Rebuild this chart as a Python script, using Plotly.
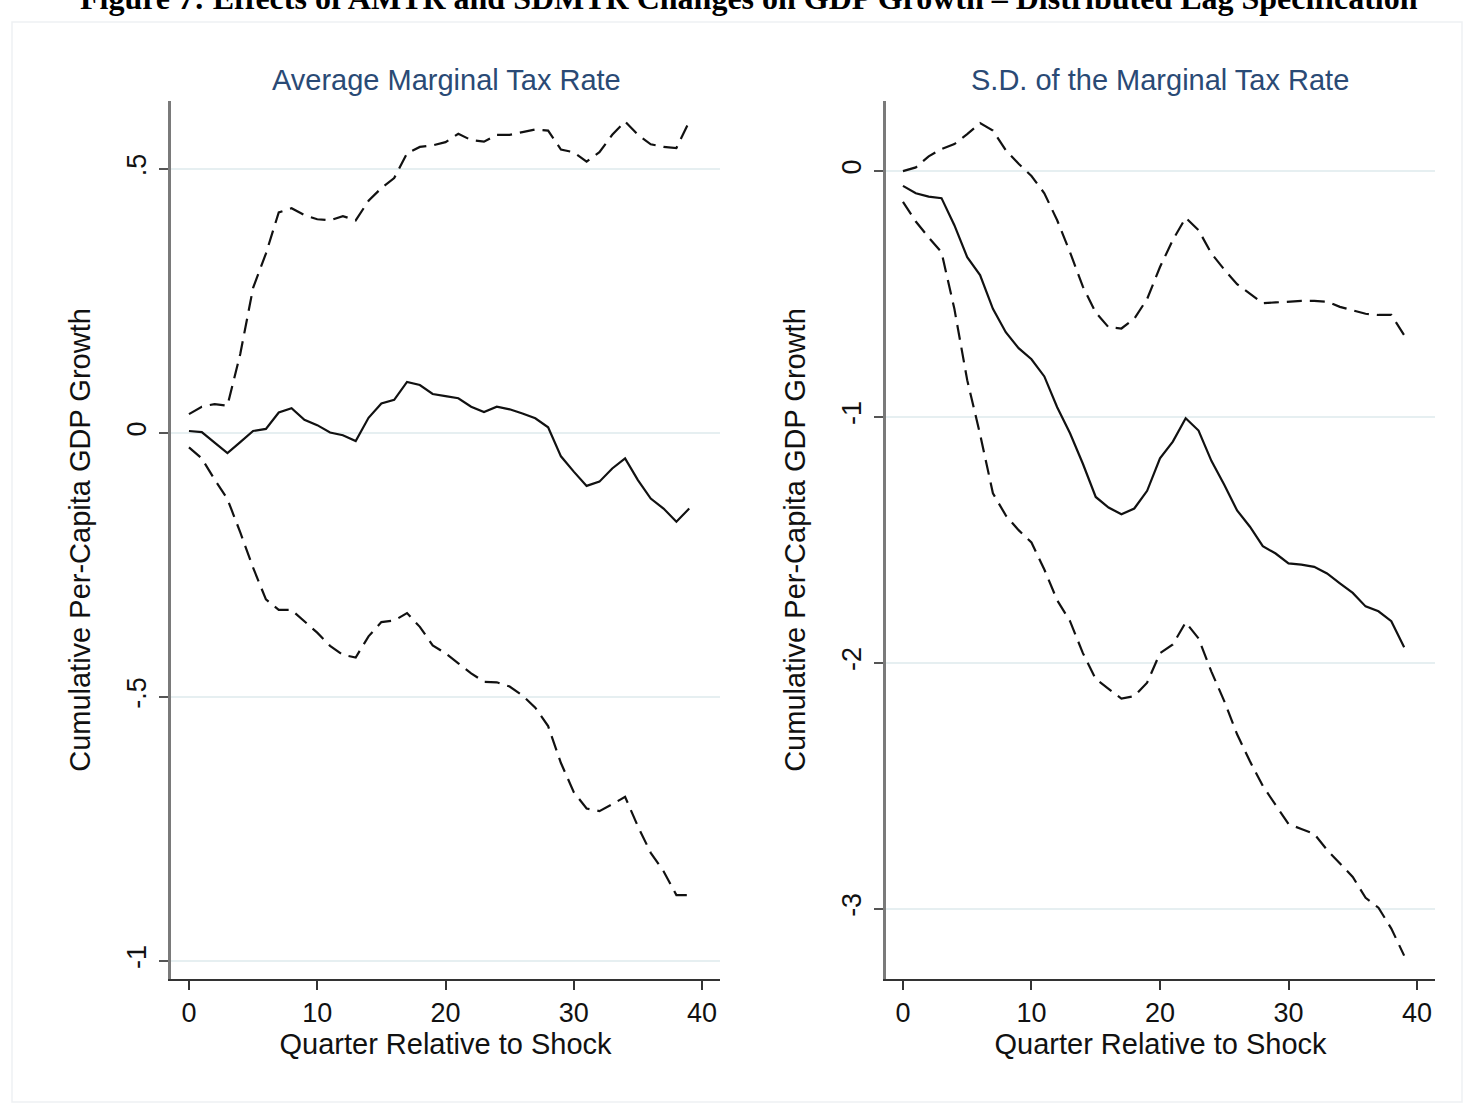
import plotly.graph_objects as go

# Quarters since the tax shock
quarters = list(range(40))

# Average marginal tax rate: point estimate and confidence band
amtr_est = [0.004, 0.002, -0.018, -0.038, -0.017, 0.004, 0.008, 0.039, 0.047, 0.025,
            0.015, 0.001, -0.004, -0.015, 0.029, 0.056, 0.063, 0.097, 0.091, 0.074,
            0.070, 0.066, 0.050, 0.040, 0.050, 0.045, 0.037, 0.028, 0.011, -0.044,
            -0.073, -0.100, -0.092, -0.067, -0.048, -0.089, -0.124, -0.143, -0.168, -0.143]
amtr_upper = [0.036, 0.050, 0.055, 0.052, 0.150, 0.275, 0.340, 0.418, 0.426, 0.413,
              0.405, 0.403, 0.411, 0.403, 0.440, 0.464, 0.483, 0.530, 0.542, 0.545,
              0.551, 0.567, 0.555, 0.552, 0.565, 0.565, 0.570, 0.575, 0.573, 0.537,
              0.532, 0.514, 0.532, 0.565, 0.590, 0.565, 0.547, 0.542, 0.540, 0.590]
amtr_lower = [-0.027, -0.048, -0.088, -0.125, -0.188, -0.255, -0.315, -0.335, -0.335, -0.357,
              -0.378, -0.403, -0.420, -0.425, -0.385, -0.358, -0.355, -0.341, -0.367, -0.402,
              -0.417, -0.436, -0.455, -0.471, -0.472, -0.480, -0.497, -0.520, -0.555, -0.625,
              -0.680, -0.711, -0.716, -0.703, -0.689, -0.745, -0.795, -0.830, -0.875, -0.875]

# Standard deviation of the marginal tax rate: point estimate and confidence band
sd_est = [-0.060, -0.090, -0.104, -0.110, -0.220, -0.350, -0.423, -0.560, -0.655, -0.720,
          -0.765, -0.835, -0.960, -1.066, -1.190, -1.325, -1.368, -1.395, -1.372, -1.300,
          -1.168, -1.100, -1.005, -1.055, -1.178, -1.275, -1.380, -1.446, -1.525, -1.555,
          -1.595, -1.600, -1.609, -1.636, -1.676, -1.715, -1.770, -1.790, -1.830, -1.936]
sd_upper = [0.000, 0.015, 0.060, 0.090, 0.110, 0.150, 0.195, 0.165, 0.085, 0.030,
            -0.020, -0.090, -0.200, -0.330, -0.470, -0.575, -0.635, -0.640, -0.600, -0.520,
            -0.390, -0.280, -0.190, -0.240, -0.335, -0.400, -0.460, -0.500, -0.537, -0.534,
            -0.530, -0.528, -0.528, -0.531, -0.552, -0.565, -0.580, -0.585, -0.585, -0.667]
sd_lower = [-0.125, -0.205, -0.270, -0.330, -0.560, -0.850, -1.070, -1.310, -1.400, -1.460,
            -1.510, -1.620, -1.745, -1.830, -1.960, -2.065, -2.105, -2.145, -2.135, -2.080,
            -1.960, -1.925, -1.835, -1.900, -2.035, -2.155, -2.290, -2.400, -2.500, -2.575,
            -2.655, -2.675, -2.695, -2.760, -2.815, -2.870, -2.955, -2.995, -3.080, -3.190]

x_ticks = [0, 10, 20, 30, 40]
left_yticks = [-1, -0.5, 0, 0.5]
left_ylabels = ["-1", "-.5", "0", ".5"]
right_yticks = [-3, -2, -1, 0]
right_ylabels = ["-3", "-2", "-1", "0"]

FONT = "Liberation Sans, Arial, sans-serif"
TITLE_COLOR = "#2a4a75"
GRID = "#e6eff1"
DASH = "15px,8px"

fig = go.Figure()

def add_panel(est, up, lo, xa, ya):
    for series, dash in ((up, DASH), (lo, DASH), (est, "solid")):
        fig.add_trace(go.Scatter(
            x=quarters, y=series, mode="lines", xaxis=xa, yaxis=ya,
            line=dict(color="#111111", width=2.2, dash=dash),
            showlegend=False, hoverinfo="skip"))

add_panel(amtr_est, amtr_upper, amtr_lower, "x", "y")
add_panel(sd_est, sd_upper, sd_lower, "x2", "y2")

xcommon = dict(
    tickvals=x_ticks, ticktext=[str(t) for t in x_ticks],
    showline=True, linecolor="#333333", linewidth=2,
    ticks="outside", ticklen=9, tickwidth=2, tickcolor="#333333",
    showgrid=False, zeroline=False,
    tickfont=dict(family=FONT, size=27, color="#111111"),
    title=dict(text="Quarter Relative to Shock", standoff=2,
               font=dict(family=FONT, size=29, color="#111111")),
)
ycommon = dict(
    showline=True, linecolor="#7a7a7a", linewidth=2.5,
    ticks="outside", ticklen=9, tickwidth=2, tickcolor="#555555",
    showgrid=True, gridcolor=GRID, gridwidth=2, zeroline=False,
    tickangle=-90, ticklabelstandoff=2,
    tickfont=dict(family=FONT, size=27, color="#111111"),
    title=dict(text="Cumulative Per-Capita GDP Growth", standoff=24,
               font=dict(family=FONT, size=29, color="#111111")),
)

fig.update_layout(
    width=1472, height=1104,
    margin=dict(l=0, r=0, t=0, b=0),
    paper_bgcolor="white", plot_bgcolor="white",
    xaxis=dict(domain=[171 / 1472, 720 / 1472], range=[-1.4, 41.4], anchor="y", **xcommon),
    yaxis=dict(domain=[1 - 979 / 1104, 1 - 101 / 1104], range=[-1.034, 0.629], anchor="x",
               tickvals=left_yticks, ticktext=left_ylabels, **ycommon),
    xaxis2=dict(domain=[886 / 1472, 1435 / 1472], range=[-1.32, 41.4], anchor="y2", **xcommon),
    yaxis2=dict(domain=[1 - 979 / 1104, 1 - 101 / 1104], range=[-3.285, 0.285], anchor="x2",
                tickvals=right_yticks, ticktext=right_ylabels, **ycommon),
)

# Panel headings
for cx, text in ((446 / 1472, "Average Marginal Tax Rate"), (1160 / 1472, "S.D. of the Marginal Tax Rate")):
    fig.add_annotation(x=cx, y=1 - 80 / 1104, xref="paper", yref="paper",
                       text=text, showarrow=False, xanchor="center", yanchor="middle",
                       font=dict(family=FONT, size=29, color=TITLE_COLOR))

# Figure caption running along the top edge of the page
fig.add_annotation(x=749 / 1472, y=1, xref="paper", yref="paper", yshift=-18,
                   text="<b>Figure 7: Effects of AMTR and SDMTR Changes on GDP Growth – Distributed Lag Specification</b>",
                   showarrow=False, xanchor="center", yanchor="bottom",
                   font=dict(family="Liberation Serif, Times New Roman, serif", size=32, color="#000000"))

# Outer graph-region frame
fig.add_shape(type="rect", xref="paper", yref="paper",
              x0=12 / 1472, x1=1462 / 1472, y0=1 - 1102 / 1104, y1=1 - 22 / 1104,
              line=dict(color="#eef1f3", width=1.5), layer="below")

fig.write_html("out.html")
